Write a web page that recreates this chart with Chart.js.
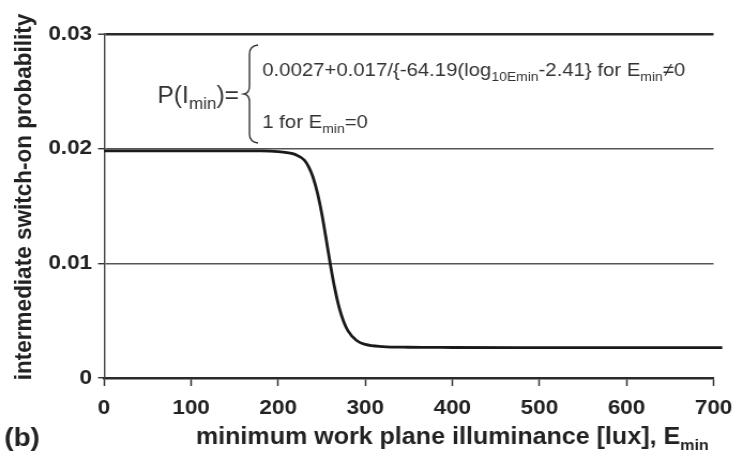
<!DOCTYPE html>
<html>
<head>
<meta charset="utf-8">
<script src="https://cdn.jsdelivr.net/npm/chart.js@4.4.1/dist/chart.umd.min.js"></script>
<style>
  html, body { margin: 0; padding: 0; background: #fff; overflow: hidden; }
  #wrap { width: 694px; height: 453px; transform: scaleX(1.0706); transform-origin: 0 0; }
  canvas { display: block; }
</style>
</head>
<body>
<div id="wrap"><canvas id="c" width="694" height="453"></canvas></div>
<script>
// ---- data ----
const emin = [0, 50, 100, 150, 180, 200, 210, 220, 230, 235, 240, 245, 250, 255, 260, 265, 270, 275, 280, 290, 300, 320, 350, 400, 500, 600, 710];
const prob = [0.0198, 0.0198, 0.0198, 0.0198, 0.0198, 0.01975, 0.01966, 0.01948, 0.0190, 0.01841, 0.01751, 0.01616, 0.01434, 0.01215, 0.00985, 0.0078, 0.00613, 0.00495, 0.00413, 0.00327, 0.00293, 0.00274, 0.00268, 0.00266, 0.00265, 0.00265, 0.00265];
const xTickLabels = ['0', '100', '200', '300', '400', '500', '600', '700'];
const yTickLabels = ['0', '0.01', '0.02', '0.03'];

const FONT = "'Liberation Sans', Arial, Helvetica, sans-serif";
const INK = '#222';

function drawRich(ctx, x, y, parts) {
  let cx = x;
  for (const p of parts) {
    ctx.font = (p.bold ? 'bold ' : '') + p.size + 'px ' + FONT;
    ctx.fillText(p.t, cx, y + (p.dy || 0));
    cx += ctx.measureText(p.t).width;
  }
}

const textPlugin = {
  id: 'texts',
  afterDraw(chart) {
    const ctx = chart.ctx;
    ctx.save();
    ctx.fillStyle = INK;
    ctx.textBaseline = 'alphabetic';
    ctx.textAlign = 'left';

    // y axis title
    ctx.save();
    ctx.translate(29, 197);
    ctx.rotate(-Math.PI / 2);
    ctx.textAlign = 'center';
    ctx.font = 'bold 22.5px ' + FONT;
    ctx.fillText('intermediate switch-on probability', 0, 0);
    ctx.restore();

    // x axis title
    drawRich(ctx, 183, 444, [
      { t: 'minimum work plane illuminance [lux], E', size: 23.4, bold: true },
      { t: 'min', size: 15, bold: true, dy: 6 }
    ]);

    // panel label
    drawRich(ctx, 4, 446, [{ t: '(b)', size: 26, bold: true }]);

    // formula
    ctx.fillStyle = '#333';
    drawRich(ctx, 147, 103, [
      { t: 'P(I', size: 23 },
      { t: 'min', size: 16, dy: 6 },
      { t: ')=', size: 23 }
    ]);
    drawRich(ctx, 245, 76, [
      { t: '0.0027+0.017/{-64.19(log', size: 19 },
      { t: '10Emin', size: 13, dy: 5 },
      { t: '-2.41} for E', size: 19 },
      { t: 'min', size: 13, dy: 5 },
      { t: '\u22600', size: 19 }
    ]);
    drawRich(ctx, 245, 128, [
      { t: '1 for E', size: 19 },
      { t: 'min', size: 13, dy: 5 },
      { t: '=0', size: 19 }
    ]);

    // curly brace
    ctx.strokeStyle = '#333';
    ctx.lineWidth = 1.4;
    ctx.beginPath();
    ctx.moveTo(241, 45);
    ctx.quadraticCurveTo(233, 46, 233, 54);
    ctx.lineTo(233, 86);
    ctx.quadraticCurveTo(233, 93, 228, 94);
    ctx.quadraticCurveTo(233, 95, 233, 102);
    ctx.lineTo(233, 134);
    ctx.quadraticCurveTo(233, 142, 241, 143);
    ctx.stroke();
    ctx.restore();
  }
};

new Chart(document.getElementById('c'), {
  type: 'line',
  data: {
    datasets: [{
      data: emin.map((e, i) => ({ x: e, y: prob[i] })),
      borderColor: '#1a1a1a',
      borderWidth: 2.8,
      pointRadius: 0,
      cubicInterpolationMode: 'monotone',
      clip: false,
      fill: false
    }]
  },
  options: {
    responsive: false,
    animation: false,
    devicePixelRatio: 1,
    layout: { padding: { left: 0, top: 34, right: 20.2, bottom: 0 } },
    plugins: { legend: { display: false }, tooltip: { enabled: false }, title: { display: false } },
    scales: {
      x: {
        type: 'linear', min: 0, max: 700,
        afterFit(s) { s.height = 75; },
        afterBuildTicks(s) { s.ticks = xTickLabels.map(v => ({ value: Number(v) })); },
        ticks: {
          callback: (v, i) => xTickLabels[i],
          color: INK, padding: 10, maxRotation: 0, autoSkip: false,
          font: { family: FONT, size: 21, weight: 'bold' }
        },
        grid: { drawOnChartArea: false, drawTicks: true, tickLength: 8, tickColor: '#333', tickWidth: 1.5 },
        border: { display: true, color: '#2a2a2a', width: 2.4 }
      },
      y: {
        type: 'linear', min: 0, max: 0.03,
        afterFit(s) { s.width = 97.2; },
        afterBuildTicks(s) { s.ticks = yTickLabels.map(v => ({ value: Number(v) })); },
        ticks: {
          callback: (v, i) => yTickLabels[i],
          color: INK, padding: 5.6, autoSkip: false,
          font: { family: FONT, size: 21, weight: 'bold' }
        },
        grid: {
          drawOnChartArea: true, drawTicks: true, tickLength: 5.6,
          color: (c) => (c.tick && c.tick.value === 0.03) ? '#2a2a2a' : '#555',
          lineWidth: (c) => (c.tick && c.tick.value === 0.03) ? 2.4 : 1.4,
          tickColor: '#333', tickWidth: 1.4
        },
        border: { display: true, color: '#444', width: 1.4 }
      }
    }
  },
  plugins: [textPlugin]
});
</script>
</body>
</html>
